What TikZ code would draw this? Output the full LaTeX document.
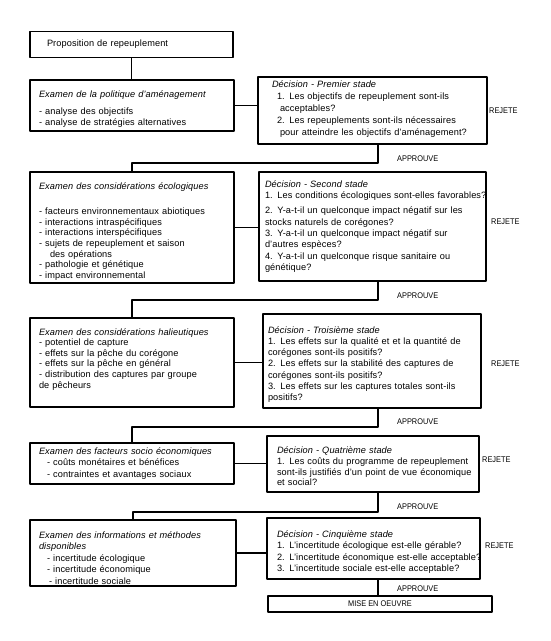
\documentclass[tikz,border=0pt]{standalone}
\usepackage{fontspec}
\setmainfont[LetterSpace=1.2]{Liberation Sans}
\newfontfamily\narrowfont[FakeStretch=0.9]{Liberation Sans}
\usetikzlibrary{positioning}
% lignes imposees: pas de coupure ni de cesure
\newcommand\nobrk{\rightskip=-40pt plus 1fil\hyphenpenalty=10000\exhyphenpenalty=10000\relax}
\newcommand\txt[1]{\fontsize{9.2}{#1}\selectfont}

\begin{document}
\begin{tikzpicture}[x=1pt,y=-1pt,line cap=round,line join=round,
  box/.style={draw,line width=1.1pt,align=left,inner ysep=0pt,
    font=\txt{11.2},execute at begin node=\nobrk},
  lab/.style={font=\narrowfont\fontsize{8.2}{9}\selectfont,inner sep=0pt,anchor=west}]
\useasboundingbox (0,0) rectangle (550,641);
% examens (colonne de gauche)
\node[box,text width=169pt,inner xsep=17pt,minimum height=26pt] (prop) at (131.5,44.5) {Proposition de repeuplement};
\node[box,text width=186pt,inner xsep=9pt,minimum height=51pt] (ex1) at (132,105.5) {\rule{0pt}{14pt}\textit{Examen de la politique d'aménagement}\\[6pt]
- analyse des objectifs\\
- analyse de stratégies alternatives};
\node[box,text width=186pt,inner xsep=9pt,minimum height=111pt,font=\txt{10.7}] (ex2) at (132,227.5) {\rule{0pt}{15pt}\textit{Examen des considérations écologiques}\\[14.3pt]
- facteurs environnementaux abiotiques\\
- interactions intraspécifiques\\
- interactions interspécifiques\\
- sujets de repeuplement et saison\\
\hspace*{11pt}des opérations\\
- pathologie et génétique\\
- impact environnemental};
\node[box,text width=186pt,inner xsep=9pt,minimum height=89pt,font=\txt{10.6}] (ex3) at (132,362.5) {\textit{Examen des considérations halieutiques}\\
- potentiel de capture\\
- effets sur la pêche du corégone\\
- effets sur la pêche en général\\
- distribution des captures par groupe\\
de pêcheurs\rule[-8.5pt]{0pt}{0pt}};
\node[box,text width=186pt,inner xsep=9pt,minimum height=41pt] (ex4) at (132,463.5) {\textit{Examen des facteurs socio économiques}\\
\hspace*{8pt}- coûts monétaires et bénéfices\\
\hspace*{8pt}- contraintes et avantages sociaux};
\node[box,text width=188pt,inner xsep=9pt,minimum height=66pt,font=\txt{11.5}] (ex5) at (133,553) {\rule{0pt}{16.5pt}\textit{Examen des informations et méthodes}\\
\textit{disponibles}\\
\hspace*{8pt}- incertitude écologique\\
\hspace*{8pt}- incertitude économique\\
\hspace*{10pt}- incertitude sociale};
% decisions (colonne de droite)
\node[box,text width=201pt,inner xsep=14pt,minimum height=67pt,font=\txt{12}] (dec1) at (372.5,110.5) {\textit{Décision - Premier stade}\\
\hspace*{5pt}1. Les objectifs de repeuplement sont-ils\\
\hspace*{8pt}acceptables?\\
\hspace*{5pt}2. Les repeuplements sont-ils nécessaires\\
\hspace*{8pt}pour atteindre les objectifs d'aménagement?\rule[-4pt]{0pt}{0pt}};
\node[box,text width=215pt,inner xsep=6pt,minimum height=109pt,font=\txt{11.3}] (dec2) at (372.5,226.5) {\textit{Décision - Second stade}\\
1. Les conditions écologiques sont-elles favorables?\\[4pt]
2. Y-a-t-il un quelconque impact négatif sur les\\
stocks naturels de corégones?\\
3. Y-a-t-il un quelconque impact négatif sur\\
d'autres espèces?\\
4. Y-a-t-il un quelconque risque sanitaire ou\\
génétique?};
\node[box,text width=208pt,inner xsep=5pt,minimum height=94pt] (dec3) at (372,361) {\rule{0pt}{13.5pt}\textit{Décision - Troisième stade}\\
1. Les effets sur la qualité et et la quantité de\\
corégones sont-ils positifs?\\
2. Les effets sur la stabilité des captures de\\
corégones sont-ils positifs?\\
3. Les effets sur les captures totales sont-ils\\
positifs?};
\node[box,text width=192pt,inner xsep=10pt,minimum height=56pt,font=\txt{10.9}] (dec4) at (373,464) {\rule{0pt}{11.3pt}\textit{Décision - Quatrième stade}\\
1. Les coûts du programme de repeuplement\\
sont-ils justifiés d'un point de vue économique\\
et social?};
\node[box,text width=193pt,inner xsep=10pt,minimum height=61pt,font=\txt{11.6}] (dec5) at (373.5,548.5) {\rule{0pt}{14pt}\textit{Décision - Cinquième stade}\\
1. L'incertitude écologique est-elle gérable?\\
2. L'incertitude économique est-elle acceptable?\\
3. L'incertitude sociale est-elle acceptable?};
\node[draw,line width=1.1pt,minimum width=224pt,minimum height=16pt,inner sep=0pt,
  font=\narrowfont\fontsize{8.2}{9}\selectfont] (mise) at (380,604) {MISE EN OEUVRE};
% points de raccord
\coordinate (ok1) at (378,163);
\coordinate (ok2) at (378,300);
\coordinate (ok3) at (378,427);
\coordinate (ok4) at (378,512);
\coordinate (ok5) at (378,590);
\begin{scope}[line width=1.1pt]
\draw (prop.south) -- (prop.south |- ex1.north);
\draw (ex1.east) -- (ex1.east -| dec1.west);
\draw (ex2.east) -- (ex2.east -| dec2.west);
\draw (ex3.east) -- (ex3.east -| dec3.west);
\draw (ex4.east) -- (ex4.east -| dec4.west);
\draw (ex5.east) -- (ex5.east -| dec5.west);
\draw (dec1.south -| ok1) -- (ok1) -| (ex2.north);
\draw (dec2.south -| ok2) -- (ok2) -| (ex3.north);
\draw (dec3.south -| ok3) -- (ok3) -| (ex4.north);
\draw (dec4.south -| ok4) -- (ok4) -| (ex5.north);
\draw (dec5.south -| ok5) -- (ok5 |- mise.north);
\end{scope}
% etiquettes
\node[lab] (rej1) at (489,111) {REJETE};
\node[lab] (rej2) at (491,222) {REJETE};
\node[lab] (rej3) at (491,364) {REJETE};
\node[lab] (rej4) at (482,460) {REJETE};
\node[lab] (rej5) at (485,546) {REJETE};
\node[lab] (app1) at (397,159) {APPROUVE};
\node[lab] (app2) at (397,296) {APPROUVE};
\node[lab] (app3) at (397,422) {APPROUVE};
\node[lab] (app4) at (397,507) {APPROUVE};
\node[lab] (app5) at (397,589) {APPROUVE};
\end{tikzpicture}
\end{document}
